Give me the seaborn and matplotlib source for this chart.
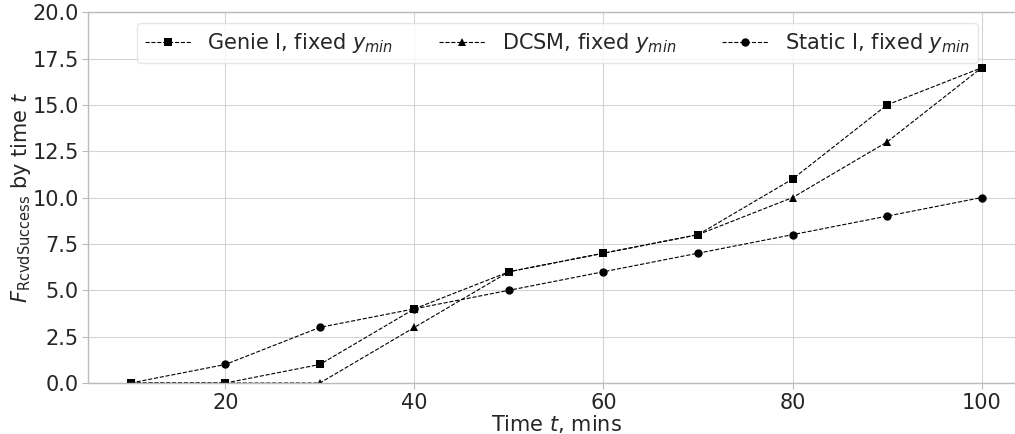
import matplotlib
matplotlib.use("Agg")
import matplotlib.pyplot as plt
import seaborn as sns
import pandas as pd

# Time points (minutes) and cumulative successful receptions per scheme
times = [10, 20, 30, 40, 50, 60, 70, 80, 90, 100]
genie_vals = [0, 0, 1, 4, 6, 7, 8, 11, 15, 17]
dcsm_vals = [0, 0, 0, 3, 6, 7, 8, 10, 13, 17]
static_vals = [0, 1, 3, 4, 5, 6, 7, 8, 9, 10]

series_names = [r"Genie I, fixed $y_{min}$", r"DCSM, fixed $y_{min}$", r"Static I, fixed $y_{min}$"]
series_vals = [genie_vals, dcsm_vals, static_vals]
series_markers = ["s", "^", "o"]

y_ticks = [0.0, 2.5, 5.0, 7.5, 10.0, 12.5, 15.0, 17.5, 20.0]
x_ticks = [20, 40, 60, 80, 100]

sns.set_theme(style="whitegrid")
plt.rcParams["font.family"] = ["DejaVu Sans"]
plt.rcParams["mathtext.fontset"] = "dejavusans"

fig = plt.figure(figsize=(10.15, 4.34), dpi=100)
ax = fig.add_axes([0.087, 0.1175, 0.922, 0.8545])

for name, vals, mk in zip(series_names, series_vals, series_markers):
    df = pd.DataFrame({"t": times, "v": vals})
    sns.lineplot(data=df, x="t", y="v", ax=ax, color="black", linestyle="--",
                 linewidth=0.8, marker=mk, markersize=6, markeredgewidth=0,
                 label=name)

ax.set_xlim(5.5, 104.5)
ax.set_ylim(0, 20)
ax.set_yticks(y_ticks)
ax.set_yticklabels([f"{v:.1f}" for v in y_ticks])
ax.set_xticks(x_ticks)
ax.tick_params(axis="both", labelsize=15, length=4, width=0.8, color="#bbbbbb",
               pad=3, left=True, bottom=True)
ax.grid(True, color="#d4d4d4", linewidth=0.8)
for s in ax.spines.values():
    s.set_color("#bbbbbb")
    s.set_linewidth(1.0)
ax.spines["right"].set_visible(False)

ax.set_xlabel(r"Time $t$, mins", fontsize=15, labelpad=0)
ax.set_ylabel(r"$F_{\mathrm{RcvdSuccess}}$ by time $t$", fontsize=15)
ax.yaxis.set_label_coords(-0.059, 0.5)

leg = ax.legend(loc="upper center", bbox_to_anchor=(0.501, 1.0), ncol=3, fontsize=15,
                frameon=True, handlelength=2.2, columnspacing=2.2, borderpad=0.4)
leg.get_frame().set_edgecolor("#e0e0e0")

fig.savefig("out.png", dpi=100)
